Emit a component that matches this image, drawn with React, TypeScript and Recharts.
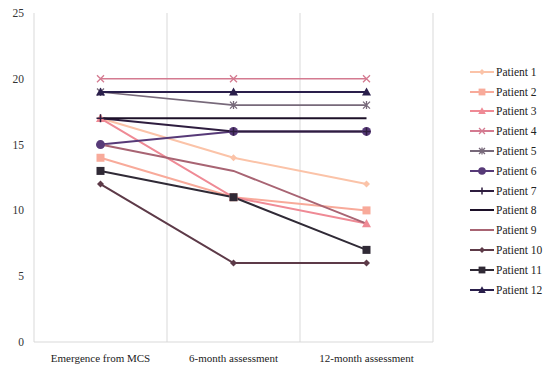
import { Line, LineChart, ReferenceLine, XAxis, YAxis } from "recharts";

const stages = ["Emergence from MCS", "6-month assessment", "12-month assessment"];

const patient1 = [17, 14, 12];
const patient2 = [14, 11, 10];
const patient3 = [17, 11, 9];
const patient4 = [20, 20, 20];
const patient5 = [19, 18, 18];
const patient6 = [15, 16, 16];
const patient7 = [17, 16, 16];
const patient8 = [17, 17, 17];
const patient9 = [15, 13, 9];
const patient10 = [12, 6, 6];
const patient11 = [13, 11, 7];
const patient12 = [19, 19, 19];

const yTicks = [0, 5, 10, 15, 20, 25];
const bandEdges = [0, 1, 2, 3];

type Shape = "diamond" | "square" | "triangle" | "x" | "star" | "circle" | "plus" | "none";

const series: { name: string; values: number[]; color: string; shape: Shape }[] = [
	{ name: "Patient 1", values: patient1, color: "#fbc3a8", shape: "diamond" },
	{ name: "Patient 2", values: patient2, color: "#f8aa9a", shape: "square" },
	{ name: "Patient 3", values: patient3, color: "#ef8a95", shape: "triangle" },
	{ name: "Patient 4", values: patient4, color: "#d47a90", shape: "x" },
	{ name: "Patient 5", values: patient5, color: "#77697a", shape: "star" },
	{ name: "Patient 6", values: patient6, color: "#573a78", shape: "circle" },
	{ name: "Patient 7", values: patient7, color: "#2e1d3f", shape: "plus" },
	{ name: "Patient 8", values: patient8, color: "#1c1028", shape: "none" },
	{ name: "Patient 9", values: patient9, color: "#a86473", shape: "none" },
	{ name: "Patient 10", values: patient10, color: "#5d3a48", shape: "diamond" },
	{ name: "Patient 11", values: patient11, color: "#302a36", shape: "square" },
	{ name: "Patient 12", values: patient12, color: "#2a1f4b", shape: "triangle" },
];

const rows = stages.map((stage, i) => {
	const row: Record<string, number | string> = { x: i + 0.5, stage };
	series.forEach((s) => {
		row[s.name] = s.values[i];
	});
	return row;
});

const font = "'Liberation Serif', serif";

function Marker({ cx, cy, color, shape, small }: { cx: number; cy: number; color: string; shape: Shape; small?: boolean }) {
	const k = small ? 0.85 : 1;
	switch (shape) {
		case "diamond": {
			const r = 3.5 * k;
			return <path d={`M${cx},${cy - r}L${cx + r},${cy}L${cx},${cy + r}L${cx - r},${cy}Z`} fill={color} />;
		}
		case "square": {
			const r = 4 * k;
			return <rect x={cx - r} y={cy - r} width={2 * r} height={2 * r} fill={color} />;
		}
		case "triangle": {
			const r = 4.5 * k;
			return <path d={`M${cx},${cy - r}L${cx + r},${cy + r * 0.8}L${cx - r},${cy + r * 0.8}Z`} fill={color} />;
		}
		case "x": {
			const r = 3.5 * k;
			return (
				<path d={`M${cx - r},${cy - r}L${cx + r},${cy + r}M${cx + r},${cy - r}L${cx - r},${cy + r}`} stroke={color} strokeWidth={1.3} fill="none" />
			);
		}
		case "star": {
			const r = 3.5 * k;
			return (
				<path
					d={`M${cx - r},${cy - r}L${cx + r},${cy + r}M${cx + r},${cy - r}L${cx - r},${cy + r}M${cx},${cy - r - 0.5}L${cx},${cy + r + 0.5}`}
					stroke={color}
					strokeWidth={1.3}
					fill="none"
				/>
			);
		}
		case "circle":
			return <circle cx={cx} cy={cy} r={4.5 * k} fill={color} />;
		case "plus": {
			const r = 4 * k;
			return <path d={`M${cx - r},${cy}L${cx + r},${cy}M${cx},${cy - r}L${cx},${cy + r}`} stroke={color} strokeWidth={1.5} fill="none" />;
		}
		default:
			return <g />;
	}
}

function LegendBox() {
	return (
		<div style={{ position: "absolute", left: 469, top: 62, width: 82 }}>
			{series.map((s) => (
				<div key={s.name} style={{ display: "flex", alignItems: "center", height: 19.8 }}>
					<svg width={26} height={12}>
						<line x1={1} x2={25} y1={6} y2={6} stroke={s.color} strokeWidth={2} />
						<Marker cx={13} cy={6} color={s.color} shape={s.shape} small />
					</svg>
					<span style={{ fontSize: 11.5, color: "#222", marginLeft: 1 }}>{s.name}</span>
				</div>
			))}
		</div>
	);
}

export default function App() {
	return (
		<div style={{ position: "absolute", left: 0, top: 0, width: 550, height: 375, fontFamily: font, background: "#fff" }}>
			<LineChart width={550} height={375} data={rows} margin={{ top: 13, right: 117, bottom: 0, left: 0 }}>
				<XAxis
					dataKey="x"
					type="number"
					domain={[0, 3]}
					ticks={[0.5, 1.5, 2.5]}
					tickFormatter={(v) => stages[Math.floor(Number(v))]}
					axisLine={{ stroke: "#d9d9d9" }}
					tickLine={false}
					tickSize={0}
					tickMargin={12}
					height={33}
					tick={{ fontSize: 11, fill: "#222", fontFamily: font }}
				/>
				<YAxis
					domain={[0, 25]}
					ticks={yTicks}
					axisLine={false}
					tickLine={false}
					tickSize={0}
					tickMargin={10}
					width={34}
					tick={{ fontSize: 11.5, fill: "#333", fontFamily: font }}
				/>
				{bandEdges.map((x) => (
					<ReferenceLine key={x} x={x} stroke="#d9d9d9" strokeWidth={1} />
				))}
				{series.map((s) => (
					<Line
						key={s.name}
						dataKey={s.name}
						stroke={s.color}
						strokeWidth={s.shape === "star" || s.shape === "x" ? 1.6 : 2}
						isAnimationActive={false}
						dot={(p: any) => <Marker key={`${s.name}-${p.index}`} cx={p.cx} cy={p.cy} color={s.color} shape={s.shape} />}
						activeDot={false}
					/>
				))}
			</LineChart>
			<LegendBox />
		</div>
	);
}
